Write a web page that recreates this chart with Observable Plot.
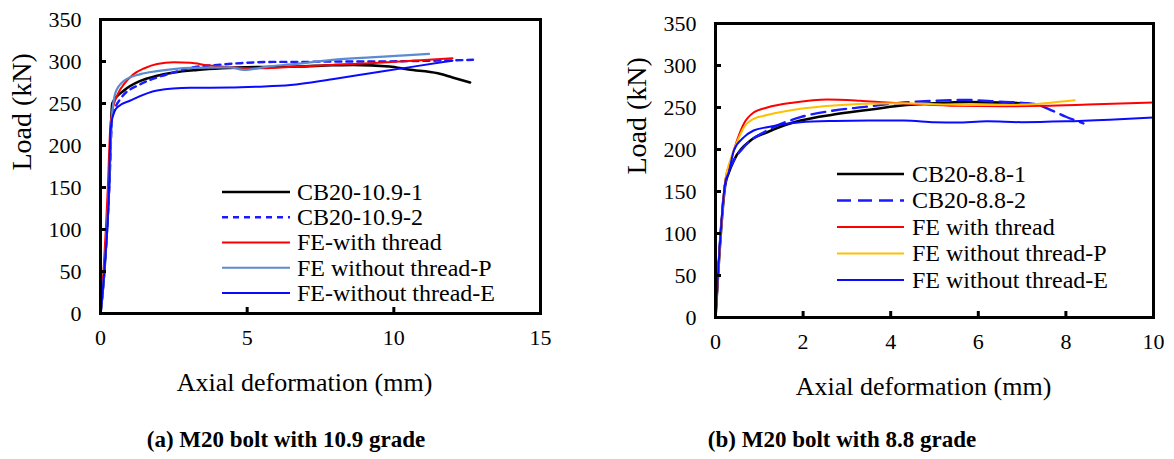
<!DOCTYPE html>
<html><head><meta charset="utf-8">
<script src="https://cdn.jsdelivr.net/npm/d3@7"></script>
<script src="https://cdn.jsdelivr.net/npm/@observablehq/plot@0.6"></script>
<style>
body{margin:0;background:#fff;}
#wrap{position:relative;width:1174px;height:459px;font-family:'Liberation Serif','Times New Roman',serif;overflow:hidden;}
.panel{position:absolute;top:0;}
.overlay{position:absolute;left:0;top:0;pointer-events:none;}
.cap{position:absolute;font-weight:bold;font-size:23px;transform:translate(-50%,-50%);white-space:nowrap;color:#000;}
</style></head><body><div id="wrap"></div>
<script>
// ---------- Panel (a): M20 bolt with 10.9 grade ----------
const xTicksA = [0, 5, 10, 15];
const yTicks = [0, 50, 100, 150, 200, 250, 300, 350];
const seriesNamesA = ["CB20-10.9-1", "CB20-10.9-2", "FE-with thread", "FE without thread-P", "FE-without thread-E"];
const cb109_1 = [[0,0],[0.15,60],[0.3,160],[0.36,225],[0.4,250],[0.8,265.5],[1.36,277],[1.93,283],[2.5,287],[3.3,290],[4.15,292],[5.5,293.5],[6.7,294],[7.9,295.5],[8.6,296],[9.85,294],[10.5,290.5],[11.5,286],[12.0,281],[12.6,275]];
const cb109_2 = [[0,0],[0.15,60],[0.3,150],[0.4,233],[0.68,255.6],[1.36,273],[1.93,281],[2.5,287],[3.07,292.5],[3.98,296],[4.77,298],[5.9,299.5],[6.7,299.5],[8,300],[9.2,300],[10.5,300.5],[11.5,301],[12.7,302]];
const feThreadA = [[0,0],[0.1,50],[0.25,150],[0.33,220],[0.4,240],[0.6,262],[0.8,273],[1.13,285],[1.5,292],[1.93,297],[2.5,299],[3.07,298.5],[3.64,295.5],[4.43,293],[5.0,292],[5.5,292],[6.7,294],[8,296],[9.2,298],[10.5,300.5],[12.0,304]];
const feNoThreadPA = [[0,0],[0.15,60],[0.3,160],[0.38,230],[0.51,263],[0.8,277],[1.36,285],[1.93,288.5],[3.07,292.5],[4.4,293],[4.9,290],[5.7,294],[6.5,296.5],[7.9,302],[9.2,305],[10.2,307],[11.2,309]];
const feNoThreadEA = [[0,0],[0.15,60],[0.3,160],[0.34,215],[0.4,232],[0.57,245.6],[1.02,253.6],[1.93,265.5],[3.07,268.7],[4.4,269],[5.34,270],[6.48,272],[7.9,279],[9.2,286],[10.5,293],[12.0,301]];

// ---------- Panel (b): M20 bolt with 8.8 grade ----------
const xTicksB = [0, 2, 4, 6, 8, 10];
const seriesNamesB = ["CB20-8.8-1", "CB20-8.8-2", "FE with thread", "FE without thread-P", "FE without thread-E"];
const cb88_1 = [[0,0],[0.23,160],[0.3,172],[0.42,187],[0.8,210.7],[1.18,220.6],[1.56,228.6],[1.94,234.5],[2.7,241.7],[3.46,247],[4.2,252],[5.0,255],[5.8,256.5],[6.5,256],[7.0,255],[7.2,254]];
const cb88_2 = [[0,0],[0.23,162],[0.4,185],[0.65,203],[1.18,222.6],[1.94,238.5],[2.7,246.4],[3.46,251],[4.2,255.5],[5.0,258],[5.7,259],[6.3,257.5],[7.0,255.5],[7.3,254],[7.7,246],[8.0,239],[8.4,231]];
const feThreadB = [[0,0],[0.23,165],[0.34,185],[0.5,212],[0.65,231],[0.87,244],[1.18,250],[1.8,256],[2.55,259.5],[3.3,258],[3.9,256],[4.6,254],[5.5,252],[6.5,251.5],[7.5,252],[8.5,253.5],[10,256]];
const feNoThreadPB = [[0,0],[0.23,165],[0.34,188],[0.5,210],[0.65,226.6],[0.87,236.5],[1.18,241],[1.94,248.5],[2.7,252.4],[3.46,254.4],[4.2,255],[5.0,254],[6.0,253],[7.0,253.5],[7.7,256],[8.2,258.5]];
const feNoThreadEB = [[0,0],[0.23,163],[0.3,172],[0.42,199],[0.65,214.7],[0.87,222.6],[1.18,226.6],[1.94,232.5],[2.7,234],[3.5,234.5],[4.3,234.5],[5.0,232.5],[5.5,232],[6.2,233.5],[7.0,232.5],[8.0,233.5],[9.0,235.5],[10,238]];

const captions = ["(a) M20 bolt with 10.9 grade", "(b) M20 bolt with 8.8 grade"];
const xLabel = "Axial deformation (mm)";
const yLabel = "Load (kN)";

const FONT = "'Liberation Serif','Times New Roman',serif";

const styleA = [
  {stroke: "#000000", strokeWidth: 2.6, dash: null},
  {stroke: "#1a1aff", strokeWidth: 2.4, dash: "6,5"},
  {stroke: "#ff0000", strokeWidth: 2, dash: null},
  {stroke: "#5b8bd0", strokeWidth: 2.2, dash: null},
  {stroke: "#0a0aff", strokeWidth: 2, dash: null}
];
const styleB = [
  {stroke: "#000000", strokeWidth: 2.6, dash: null},
  {stroke: "#1a1aff", strokeWidth: 2.4, dash: "14,7"},
  {stroke: "#ff0000", strokeWidth: 2, dash: null},
  {stroke: "#ffc000", strokeWidth: 2, dash: null},
  {stroke: "#0a0aff", strokeWidth: 2, dash: null}
];

function panel({series, styles, xDomain, xTicks, width, height, ml, mr, mt, mb, xlabDx}) {
  const innerW = width - ml - mr, innerH = height - mt - mb;
  const lines = series.map((s, i) => Plot.line(s, {
    x: d => d[0], y: d => d[1], stroke: styles[i].stroke, strokeWidth: styles[i].strokeWidth,
    strokeDasharray: styles[i].dash, curve: "monotone-x"
  }));
  return Plot.plot({
    width, height, marginLeft: ml, marginRight: mr, marginTop: mt, marginBottom: mb,
    style: {fontFamily: FONT, background: "white", color: "black", overflow: "visible"},
    x: {domain: xDomain},
    y: {domain: [0, 350]},
    marks: [
      ...lines,
      Plot.tickY(yTicks, {y: d => d, stroke: "black", strokeWidth: 3, insetRight: innerW - 6}),
      Plot.tickX(xTicks, {x: d => d, stroke: "black", strokeWidth: 3, insetTop: innerH - 6}),
      Plot.frame({stroke: "black", strokeWidth: 3}),
      Plot.axisY({ticks: yTicks, tickSize: 0, tickPadding: 19, fontSize: 22, label: null, tickFormat: d => d}),
      Plot.axisX({ticks: xTicks, tickSize: 0, tickPadding: 16, fontSize: 22, label: null, tickFormat: d => d}),
      Plot.text([xLabel], {frameAnchor: "bottom", dy: 69, dx: xlabDx, fontSize: 26, lineAnchor: "middle", fill: "black"}),
      Plot.text([yLabel], {frameAnchor: "left", dx: -78, dy: 4, rotate: -90, fontSize: 28, lineAnchor: "middle", fill: "black"})
    ]
  });
}

const wrap = document.getElementById("wrap");

const pA = panel({series: [cb109_1, cb109_2, feThreadA, feNoThreadPA, feNoThreadEA], styles: styleA,
  xDomain: [0, 15], xTicks: xTicksA, width: 587, height: 400, ml: 100, mr: 47, mt: 19, mb: 87, xlabDx: -16});
const pB = panel({series: [cb88_1, cb88_2, feThreadB, feNoThreadPB, feNoThreadEB], styles: styleB,
  xDomain: [0, 10], xTicks: xTicksB, width: 587, height: 400, ml: 128, mr: 21, mt: 23, mb: 83, xlabDx: -11});

const dA = document.createElement("div"); dA.className = "panel"; dA.style.left = "0px"; dA.appendChild(pA); wrap.appendChild(dA);
const dB = document.createElement("div"); dB.className = "panel"; dB.style.left = "587px"; dB.appendChild(pB); wrap.appendChild(dB);

// legends (overlay)
const ov = d3.select(wrap).append("svg").attr("class", "overlay").attr("width", 1174).attr("height", 459);
function legend(names, styles, lx0, lx1, tx, y0, dy) {
  const g = ov.append("g").attr("font-family", FONT).attr("font-size", 24);
  names.forEach((n, i) => {
    const y = y0 + i * dy;
    g.append("line").attr("x1", lx0).attr("x2", lx1).attr("y1", y).attr("y2", y)
      .attr("stroke", styles[i].stroke).attr("stroke-width", styles[i].strokeWidth)
      .attr("stroke-dasharray", styles[i].dash);
    g.append("text").attr("x", tx).attr("y", y).attr("dy", "0.33em").attr("fill", "black").text(n);
  });
}
legend(seriesNamesA, styleA, 222, 290, 297, 192, 25.25);
legend(seriesNamesB, styleB, 837, 904, 912, 174, 26.5);

// captions
[[286, captions[0]], [842, captions[1]]].forEach(([x, t]) => {
  const c = document.createElement("div"); c.className = "cap"; c.style.left = x + "px"; c.style.top = "440px";
  c.textContent = t; wrap.appendChild(c);
});
</script>
</body></html>
